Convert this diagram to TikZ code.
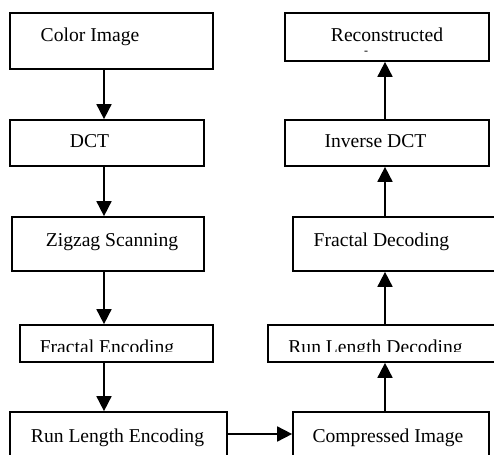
\documentclass[tikz,border=0pt]{standalone}
\usepackage{fontspec}
\setmainfont{Liberation Serif}
\usetikzlibrary{arrows.meta, positioning, calc}

\begin{document}
\begin{tikzpicture}[
    x=1pt, y=-1pt,
    stage/.style={draw, line width=1.7pt, inner sep=0pt},
    caption/.style={anchor=base, inner sep=0pt, font=\fontsize{19.6}{22}\selectfont},
    flow/.style={line width=1.7pt, -{Triangle[width=15pt,length=15pt]}}
]
    \clip (0,0) rectangle (494,454);

    % encoder column
    \node[stage, minimum width=203pt, minimum height=56pt] (cimg) at (111.5,41) {};
    \node[stage, minimum width=194pt, minimum height=46pt] (dct)  at (107,143) {};
    \node[stage, minimum width=192pt, minimum height=54pt] (zig)  at (108,244) {};
    \node[stage, minimum width=193pt, minimum height=37pt] (fenc) at (116.5,343.5) {};
    \node[stage, minimum width=217pt, minimum height=44pt] (renc) at (118.5,434) {};

    % decoder column
    \node[stage, minimum width=204pt, minimum height=48pt] (rec)  at (387,37) {};
    \node[stage, minimum width=204pt, minimum height=46pt] (idct) at (387,143) {};
    \node[stage, minimum width=222pt, minimum height=54pt] (fdec) at (404,244) {};
    \node[stage, minimum width=247pt, minimum height=37pt] (rdec) at (391.5,343.5) {};
    \node[stage, minimum width=196pt, minimum height=44pt] (comp) at (391,434) {};

    % captions
    \node[caption] (cimg-t) at (90,42) {Color Image};
    \node[caption] (dct-t)  at (89.5,148) {DCT};
    \node[caption] (zig-t)  at (112,246) {Zigzag Scanning};
    \begin{scope}
        \clip (fenc.north west) rectangle ($(fenc.south east)+(0,-11)$);
        \node[caption] (fenc-t) at (107,353) {Fractal Encoding};
    \end{scope}
    \node[caption] (renc-t) at (117.5,442) {Run Length Encoding};

    \node[caption] (rec-t)  at (387,42) {Reconstructed};
    \node[caption, font=\fontsize{12}{12}\selectfont] (rec-d) at (366,55) {-};
    \node[caption] (idct-t) at (375.5,148) {Inverse DCT};
    \node[caption] (fdec-t) at (381.5,246) {Fractal Decoding};
    \begin{scope}
        \clip (rdec.north west) rectangle ($(rdec.south east)+(0,-11)$);
        \node[caption] (rdec-t) at (375.5,353) {Run Length Decoding};
    \end{scope}
    \node[caption] (comp-t) at (388,442) {Compressed Image};

    % connectors
    \coordinate (lcol) at (104,0);
    \coordinate (rcol) at (385,0);
    \draw[flow] (cimg.south -| lcol) -- (dct.north -| lcol);
    \draw[flow] (dct.south -| lcol) -- (zig.north -| lcol);
    \draw[flow] (zig.south -| lcol) -- (fenc.north -| lcol);
    \draw[flow] (fenc.south -| lcol) -- (renc.north -| lcol);
    \draw[flow] (renc.east) -- (comp.west);
    \draw[flow] (comp.north -| rcol) -- (rdec.south -| rcol);
    \draw[flow] (rdec.north -| rcol) -- (fdec.south -| rcol);
    \draw[flow] (fdec.north -| rcol) -- (idct.south -| rcol);
    \draw[flow] (idct.north -| rcol) -- (rec.south -| rcol);
\end{tikzpicture}
\end{document}
